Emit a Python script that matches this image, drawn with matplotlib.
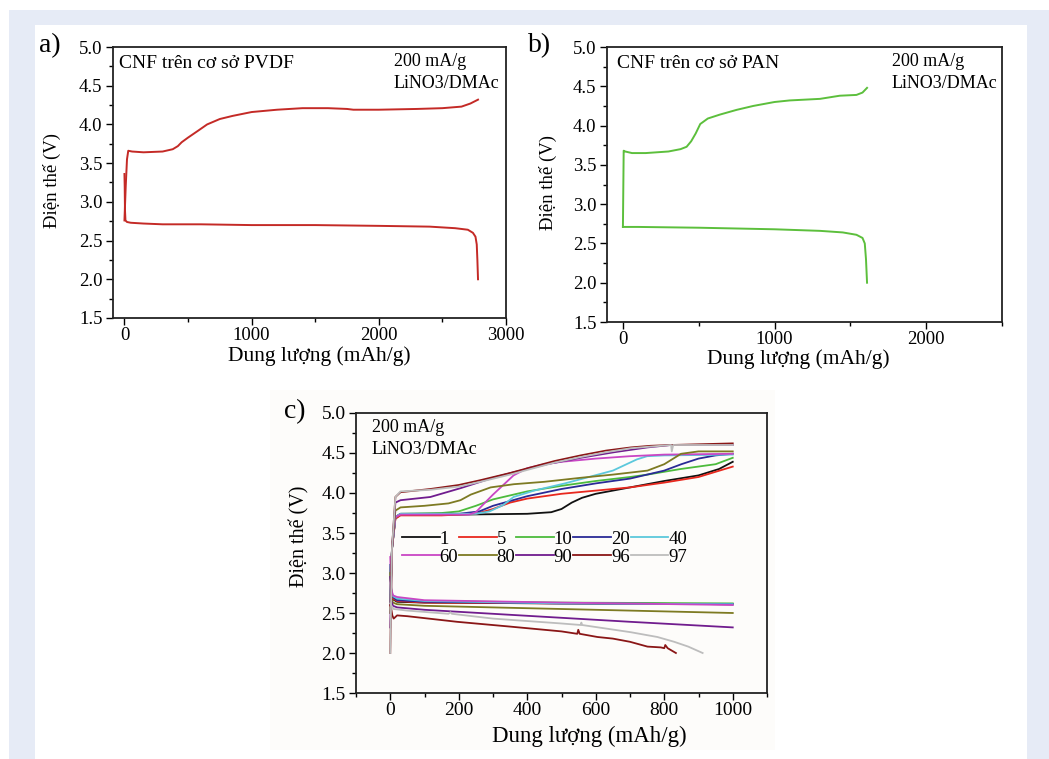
import matplotlib
matplotlib.use("Agg")
import matplotlib.pyplot as plt
from matplotlib.patches import Rectangle
from matplotlib.ticker import MultipleLocator

plt.rcParams['font.family'] = ['Liberation Serif', 'DejaVu Serif']

W, H = 1049, 759

# ---------------- data ----------------
# panel a: PVDF-based CNF
pvdf_dis_x = [0, 2, 4, 8, 20, 50, 150, 300, 600, 1000, 1500, 2000, 2400, 2600, 2700, 2740, 2760, 2770, 2775, 2780]
pvdf_dis_v = [3.36, 3.2, 2.9, 2.76, 2.74, 2.73, 2.72, 2.71, 2.71, 2.70, 2.70, 2.69, 2.68, 2.66, 2.64, 2.60, 2.55, 2.45, 2.25, 2.0]
pvdf_ch_x = [0, 10, 20, 30, 60, 150, 300, 380, 420, 450, 500, 580, 650, 750, 850, 1000, 1200, 1400, 1600, 1750, 1800, 2000, 2300, 2500, 2650, 2720, 2780]
pvdf_ch_v = [2.76, 3.2, 3.55, 3.66, 3.65, 3.64, 3.65, 3.68, 3.72, 3.77, 3.83, 3.92, 4.0, 4.07, 4.11, 4.16, 4.19, 4.21, 4.21, 4.20, 4.19, 4.19, 4.20, 4.21, 4.23, 4.27, 4.32]

# panel b: PAN-based CNF
pan_dis_x = [0, 100, 500, 1000, 1300, 1450, 1540, 1580, 1595, 1603, 1610]
pan_dis_v = [2.71, 2.71, 2.70, 2.68, 2.66, 2.64, 2.61, 2.57, 2.5, 2.3, 2.0]
pan_ch_x = [0, 5, 15, 60, 150, 300, 380, 420, 450, 480, 510, 560, 640, 750, 860, 1000, 1100, 1300, 1430, 1540, 1580, 1610]
pan_ch_v = [2.71, 3.68, 3.67, 3.65, 3.65, 3.67, 3.70, 3.73, 3.80, 3.90, 4.02, 4.09, 4.14, 4.20, 4.25, 4.30, 4.32, 4.34, 4.38, 4.39, 4.42, 4.48]

# panel c: cycling at limited capacity
cycles = ['1', '5', '10', '20', '40', '60', '80', '90', '96', '97']
colors = ['#111111', '#e8281e', '#4cbb3c', '#2a2a96', '#5cc8dc', '#c946c4', '#7d7a22', '#701c8e', '#8a1616', '#bdbdbd']

ch_x = {
    '1': [0, 5, 15, 30, 200, 400, 470, 500, 530, 560, 600, 700, 800, 900, 960, 1000],
    '5': [0, 5, 15, 30, 150, 250, 300, 350, 400, 500, 600, 700, 800, 900, 1000],
    '10': [0, 5, 15, 30, 150, 200, 250, 300, 400, 500, 600, 700, 751, 848, 950, 1000],
    '20': [0, 5, 15, 30, 200, 260, 300, 400, 500, 600, 700, 800, 850, 900, 950, 1000],
    '40': [0, 5, 15, 30, 250, 290, 330, 360, 420, 510, 580, 650, 690, 720, 750, 800, 1000],
    '60': [0, 5, 15, 30, 230, 250, 270, 300, 330, 360, 400, 450, 500, 600, 700, 800, 1000],
    '80': [0, 5, 15, 30, 100, 170, 205, 235, 293, 361, 450, 556, 650, 751, 800, 849, 900, 1000],
    '90': [0, 5, 15, 30, 117, 205, 300, 361, 458, 556, 654, 751, 820, 1000],
    '96': [0, 5, 15, 30, 117, 200, 263, 350, 410, 480, 556, 630, 703, 760, 820, 1000],
    '97': [0, 5, 15, 30, 117, 200, 263, 350, 410, 480, 556, 630, 703, 760, 820, 822, 826, 830, 1000],
}
ch_v = {
    '1': [2.61, 3.3, 3.68, 3.73, 3.73, 3.74, 3.76, 3.80, 3.88, 3.94, 3.99, 4.07, 4.15, 4.22, 4.30, 4.39],
    '5': [2.61, 3.3, 3.68, 3.72, 3.72, 3.74, 3.80, 3.88, 3.93, 3.99, 4.03, 4.07, 4.13, 4.20, 4.33],
    '10': [2.62, 3.3, 3.70, 3.74, 3.75, 3.77, 3.84, 3.92, 4.02, 4.09, 4.15, 4.20, 4.23, 4.30, 4.36, 4.44],
    '20': [2.61, 3.3, 3.70, 3.74, 3.74, 3.77, 3.84, 3.96, 4.05, 4.12, 4.18, 4.28, 4.36, 4.43, 4.47, 4.49],
    '40': [2.61, 3.3, 3.70, 3.74, 3.74, 3.77, 3.85, 3.95, 4.03, 4.12, 4.20, 4.28, 4.36, 4.42, 4.46, 4.47, 4.48],
    '60': [2.60, 3.3, 3.70, 3.73, 3.73, 3.76, 3.85, 3.98, 4.10, 4.22, 4.31, 4.36, 4.39, 4.43, 4.46, 4.48, 4.49],
    '80': [2.50, 3.3, 3.78, 3.82, 3.84, 3.87, 3.91, 3.98, 4.07, 4.11, 4.14, 4.19, 4.23, 4.28, 4.36, 4.49, 4.52, 4.52],
    '90': [2.32, 3.3, 3.88, 3.91, 3.95, 4.06, 4.19, 4.26, 4.36, 4.44, 4.51, 4.57, 4.60, 4.60],
    '96': [2.0, 3.3, 3.95, 4.01, 4.05, 4.10, 4.16, 4.25, 4.32, 4.40, 4.47, 4.53, 4.57, 4.59, 4.60, 4.62],
    '97': [2.0, 3.3, 3.95, 4.02, 4.04, 4.08, 4.14, 4.23, 4.30, 4.38, 4.45, 4.51, 4.56, 4.58, 4.60, 4.52, 4.60, 4.60, 4.60],
}
dis_x = {
    '1': [0, 3, 8, 20, 100, 500, 1000],
    '5': [0, 3, 8, 20, 100, 500, 1000],
    '10': [0, 3, 8, 20, 100, 500, 1000],
    '20': [0, 3, 8, 20, 100, 500, 1000],
    '40': [0, 3, 8, 20, 100, 500, 1000],
    '60': [0, 3, 8, 20, 100, 500, 1000],
    '80': [0, 3, 8, 20, 100, 500, 1000],
    '90': [0, 3, 8, 20, 100, 300, 500, 700, 1000],
    '96': [0, 3, 6, 10, 20, 50, 195, 350, 500, 546, 549, 553, 605, 650, 700, 751, 790, 800, 803, 810, 834],
    '97': [0, 5, 10, 50, 170, 176, 180, 300, 497, 556, 558, 560, 702, 780, 829, 870, 912],
}
dis_v = {
    '1': [3.1, 2.75, 2.67, 2.64, 2.63, 2.62, 2.61],
    '5': [3.1, 2.76, 2.68, 2.65, 2.63, 2.62, 2.61],
    '10': [3.1, 2.77, 2.70, 2.67, 2.65, 2.63, 2.62],
    '20': [3.1, 2.77, 2.70, 2.66, 2.64, 2.62, 2.61],
    '40': [3.1, 2.78, 2.71, 2.68, 2.65, 2.62, 2.61],
    '60': [3.2, 2.80, 2.72, 2.70, 2.66, 2.63, 2.60],
    '80': [3.0, 2.68, 2.63, 2.61, 2.59, 2.55, 2.50],
    '90': [2.95, 2.65, 2.59, 2.57, 2.54, 2.49, 2.44, 2.39, 2.32],
    '96': [2.60, 2.55, 2.47, 2.43, 2.47, 2.46, 2.39, 2.33, 2.27, 2.24, 2.29, 2.24, 2.20, 2.18, 2.14, 2.08, 2.07, 2.06, 2.10, 2.06, 2.00],
    '97': [2.62, 2.58, 2.55, 2.53, 2.49, 2.51, 2.49, 2.43, 2.37, 2.35, 2.38, 2.35, 2.26, 2.20, 2.14, 2.08, 2.00],
}

ylabel = 'Điện thế (V)'
xlabel = 'Dung lượng (mAh/g)'

# ---------------- figure ----------------
fig = plt.figure(figsize=(W / 100, H / 100), dpi=100)
fig.patch.set_facecolor('white')


def px_rect(x0, y0, x1, y1, color):
    fig.patches.append(Rectangle((x0 / W, 1 - y1 / H), (x1 - x0) / W, (y1 - y0) / H,
                                 transform=fig.transFigure, facecolor=color,
                                 edgecolor='none', zorder=-10))


px_rect(9, 10, W, H, '#e6ebf6')
px_rect(35, 25, 1027, H, 'white')


def add_axes_px(x0, y0, x1, y1):
    return fig.add_axes([x0 / W, 1 - y1 / H, (x1 - x0) / W, (y1 - y0) / H])


def ftext(x, y, s, **kw):
    fig.text(x / W, 1 - y / H, s, **kw)


def style(ax, xlim, xmaj, xmin, fs):
    ax.set_xlim(*xlim)
    ax.set_ylim(1.5, 5.0)
    ax.xaxis.set_major_locator(MultipleLocator(xmaj))
    ax.xaxis.set_minor_locator(MultipleLocator(xmin))
    ax.yaxis.set_major_locator(MultipleLocator(0.5))
    ax.yaxis.set_minor_locator(MultipleLocator(0.25))
    ax.yaxis.set_major_formatter(plt.FormatStrFormatter('%.1f'))
    ax.tick_params(which='both', direction='out', top=False, right=False, labelsize=fs, width=1.0, pad=2.5)
    ax.tick_params(axis='x', which='both', pad=1.5)
    ax.tick_params(which='major', length=5)
    ax.tick_params(which='minor', length=3)
    for sp in ax.spines.values():
        sp.set_linewidth(1.3)
        sp.set_color('#222222')
    ax.set_facecolor('none')


# panel a
axa = add_axes_px(113, 47, 506, 318)
axa.plot(pvdf_dis_x, pvdf_dis_v, color='#c42a26', lw=1.4)
axa.plot(pvdf_ch_x, pvdf_ch_v, color='#c42a26', lw=1.4)
style(axa, (-90, 3000), 1000, 500, 13.5)
axa.set_xticks([0, 1000, 2000, 3000])
ftext(119, 63, 'CNF trên cơ sở PVDF', fontsize=14, va='center')
ftext(394, 62, '200 mA/g', fontsize=13, va='center')
ftext(394, 83, 'LiNO3/DMAc', fontsize=13, va='center')
ftext(39, 46, 'a)', fontsize=20, va='center')
ftext(52, 181, ylabel, fontsize=13.5, va='center', ha='center', rotation=90)
ftext(319, 361, xlabel, fontsize=15.5, va='baseline', ha='center')

# panel b
axb = add_axes_px(607, 47, 1002, 322)
axb.plot(pan_dis_x, pan_dis_v, color='#5cbf3c', lw=1.4)
axb.plot(pan_ch_x, pan_ch_v, color='#5cbf3c', lw=1.4)
style(axb, (-105, 2500), 1000, 500, 13.5)
ftext(617, 63, 'CNF trên cơ sở PAN', fontsize=14, va='center')
ftext(892, 62, '200 mA/g', fontsize=13, va='center')
ftext(892, 83, 'LiNO3/DMAc', fontsize=13, va='center')
ftext(528, 46, 'b)', fontsize=20, va='center')
ftext(548, 183, ylabel, fontsize=13.5, va='center', ha='center', rotation=90)
ftext(798, 364, xlabel, fontsize=15.5, va='baseline', ha='center')

# panel c
px_rect(270, 390, 775, 750, '#fdfcfa')
axc = add_axes_px(356, 413, 767, 693)
handles = {}
for c, col in zip(cycles, colors):
    axc.plot(dis_x[c], dis_v[c], color=col, lw=1.3)
    ln, = axc.plot(ch_x[c], ch_v[c], color=col, lw=1.3)
    handles[c] = ln
style(axc, (-100, 1100), 200, 100, 14)
order = ['1', '60', '5', '80', '10', '90', '20', '96', '40', '97']
axc.legend([handles[k] for k in order], order, ncol=5, frameon=False,
           loc='upper left', bbox_to_anchor=(0.08, 0.626), fontsize=13.5,
           handlelength=2.0, handletextpad=0.0, columnspacing=0.05,
           labelspacing=0.05, borderpad=0.2)
ftext(372, 427, '200 mA/g', fontsize=13, va='center')
ftext(372, 450, 'LiNO3/DMAc', fontsize=13, va='center')
ftext(284, 412, 'c)', fontsize=20, va='center')
ftext(299, 536, ylabel, fontsize=14.5, va='center', ha='center', rotation=90)
ftext(589, 742, xlabel, fontsize=16.5, va='baseline', ha='center')

fig.savefig('out.png', dpi=100, facecolor='white')
